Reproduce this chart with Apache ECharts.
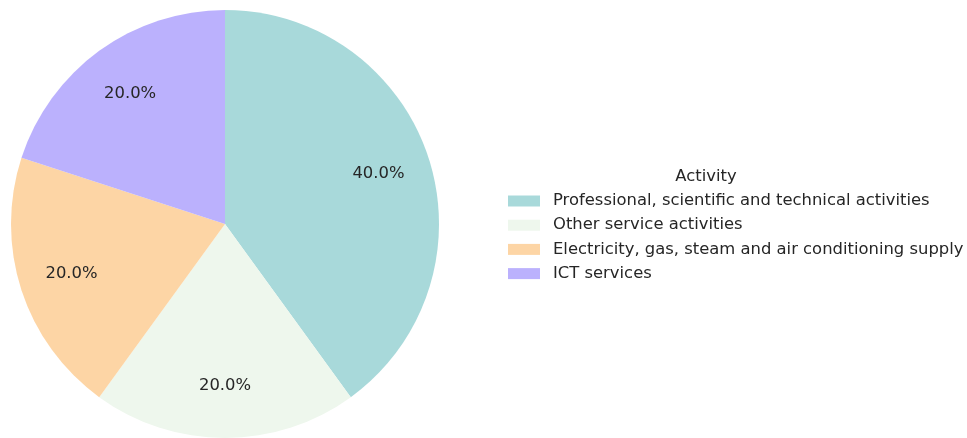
<!DOCTYPE html>
<html>
<head>
<meta charset="utf-8">
<script src="https://cdn.jsdelivr.net/npm/echarts@6/dist/echarts.min.js"></script>
<style>
  html, body { margin: 0; padding: 0; background: #ffffff; }
  #chart { width: 967px; height: 438px; }
</style>
</head>
<body>
<div id="chart"></div>
<script>
// Share of companies by activity
const categories = [
  'Professional, scientific and technical activities',
  'Other service activities',
  'Electricity, gas, steam and air conditioning supply',
  'ICT services'
];
const values = [2, 1, 1, 1];
const colors = ['#A8D9DA', '#EEF7ED', '#FDD5A5', '#BBB1FD'];
const legendTitle = 'Activity';

const FONT = '"DejaVu Sans", sans-serif';
const FS = 16.4;
const center = [225, 224];
const R = 214;

const pieData = categories.map((name, i) => ({
  name: name,
  value: values[i],
  itemStyle: { color: colors[i] }
}));

const chart = echarts.init(document.getElementById('chart'), null, { renderer: 'canvas' });
chart.setOption({
  animation: false,
  backgroundColor: '#ffffff',
  graphic: [{
    type: 'text',
    x: 706,
    y: 177,
    style: {
      text: legendTitle,
      fontFamily: FONT,
      fontSize: FS,
      fill: '#262626',
      align: 'center',
      verticalAlign: 'middle'
    }
  }],
  legend: {
    orient: 'vertical',
    left: 508,
    top: 193,
    padding: 0,
    itemWidth: 32,
    itemHeight: 11,
    itemGap: 8.2,
    icon: 'rect',
    selectedMode: false,
    data: categories,
    textStyle: { fontFamily: FONT, fontSize: FS, color: '#262626', padding: [0, 0, 0, 8] }
  },
  series: [
    {
      type: 'pie',
      center: center,
      radius: [0, R],
      startAngle: 90,
      clockwise: true,
      silent: true,
      label: { show: false },
      labelLine: { show: false },
      itemStyle: { borderWidth: 0 },
      data: pieData
    },
    {
      // transparent ring used only to place the percentage labels near 0.74 R
      type: 'pie',
      center: center,
      radius: [R * 0.48, R],
      startAngle: 90,
      clockwise: true,
      silent: true,
      legendHoverLink: false,
      itemStyle: { color: 'rgba(0,0,0,0)', borderWidth: 0 },
      label: {
        show: true,
        position: 'inside',
        fontFamily: FONT,
        fontSize: FS,
        color: '#262626',
        formatter: p => p.percent.toFixed(1) + '%'
      },
      labelLine: { show: false },
      data: categories.map((name, i) => ({ name: name + ' ', value: values[i] }))
    }
  ]
});
</script>
</body>
</html>
